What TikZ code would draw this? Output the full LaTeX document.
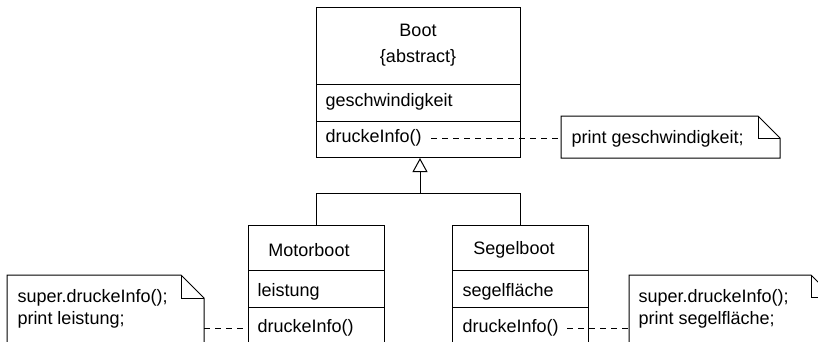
\documentclass[tikz,border=0pt]{standalone}
\usepackage{fontspec}
\setmainfont{Liberation Sans}
\usetikzlibrary{arrows.meta}
\begin{document}
\begin{tikzpicture}[x=1pt,y=-1pt,line width=1pt,
  lbl/.style={font=\fontsize{18}{22}\selectfont,inner sep=0pt},
  lft/.style={lbl,anchor=west},
  part/.style={draw,anchor=north west,inner sep=0pt},
  plain/.style={anchor=north west,inner sep=0pt},
  link/.style={dash pattern=on 6pt off 5pt},
  gen/.style={-{Triangle[open,length=14pt,width=15pt]}}]
\useasboundingbox (0,0) rectangle (818,342);
\clip (0,0) rectangle (818,342);

% class Boot
\node[part,minimum width=204pt,minimum height=77pt] (btitle) at (316,7) {};
\node[part,minimum width=204pt,minimum height=37pt] (battr) at (316,84) {};
\node[part,minimum width=204pt,minimum height=36pt] (bops) at (316,121) {};
\node[lbl] (bname) at (418,30) {Boot};
\node[lbl] (babs) at (418,58) {\{abstract\}};
\node[lft] (bgesch) at (325,102) {geschwindigkeit};
\node[lft] (bdruck) at (325,138) {druckeInfo()};

% class Motorboot
\node[part,minimum width=136pt,minimum height=45pt] (mtitle) at (248,225) {};
\node[part,minimum width=136pt,minimum height=37pt] (mattr) at (248,270) {};
\node[part,minimum width=136pt,minimum height=40pt] (mops) at (248,307) {};
\node[lbl] (mname) at (309,250) {Motorboot};
\node[lft] (mleist) at (257,292) {leistung};
\node[lft] (mdruck) at (257,328) {druckeInfo()};

% class Segelboot
\node[part,minimum width=136pt,minimum height=45pt] (stitle) at (452,225) {};
\node[part,minimum width=136pt,minimum height=37pt] (sattr) at (452,270) {};
\node[part,minimum width=136pt,minimum height=40pt] (sops) at (452,307) {};
\node[lbl] (sname) at (514,250) {Segelboot};
\node[lft] (sflaeche) at (462,292) {segelfläche};
\node[lft] (sdruck) at (462,328) {druckeInfo()};

% generalization
\coordinate (join) at (420,193);
\draw (mtitle.north) |- (join);
\draw (stitle.north) |- (join);
\draw[gen] (join) -- (join |- bops.south);

% notes with folded corner
\node[plain,minimum width=218pt,minimum height=41pt] (tnote) at (561,116) {};
\node[plain,minimum width=196pt,minimum height=80pt] (lnote) at (7,275) {};
\node[plain,minimum width=203pt,minimum height=80pt] (rnote) at (629,275) {};
\foreach \n/\f in {tnote/22,lnote/23,rnote/22}{
  \draw (\n.south east) -- (\n.south west) -- (\n.north west)
        -- ([xshift=-\f pt]\n.north east)
        -- ([yshift=-\f pt]\n.north east) -- cycle;
  \draw ([xshift=-\f pt]\n.north east) -- ++(0,\f) -- ([yshift=-\f pt]\n.north east);
}
\node[lft] (ttext) at (571,139) {print geschwindigkeit;};
\node[lft] (ltext1) at (17,298) {super.druckeInfo();};
\node[lft] (ltext2) at (17,320) {print leistung;};
\node[lft] (rtext1) at (638,298) {super.druckeInfo();};
\node[lft] (rtext2) at (638,320) {print segelfläche;};

% note attachments
\draw[link] ([xshift=9pt]bdruck.east) -- (bdruck.east -| tnote.west);
\draw[link] (lnote.east |- mdruck.west) -- (mops.west |- mdruck.west);
\draw[link] ([xshift=8pt]sdruck.east) -- (sdruck.east -| rnote.west);
\end{tikzpicture}
\end{document}
